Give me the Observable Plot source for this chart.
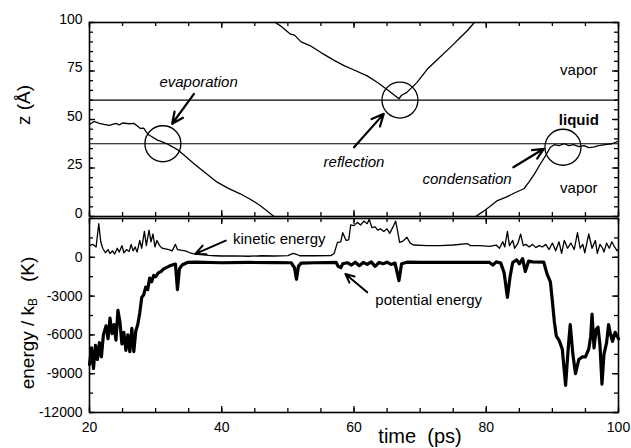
<!DOCTYPE html>
<html><head><meta charset="utf-8">
<script src="https://cdn.jsdelivr.net/npm/d3@7"></script>
<script src="https://cdn.jsdelivr.net/npm/@observablehq/plot@0.6"></script>
<style>
body{margin:0;background:#fff;}
#wrap{position:relative;width:631px;height:448px;overflow:hidden;font-family:"Liberation Sans",Arial,sans-serif;color:#000;background:#fff;}
#wrap svg{position:absolute;left:0;overflow:visible;}
.lab{position:absolute;white-space:nowrap;transform:translate(-50%,-50%);line-height:1;}
.rot{transform:translate(-50%,-50%) rotate(-90deg);}
</style></head><body><div id="wrap"></div>
<script>
// ---- data ----
const xTicks = [20, 40, 60, 80, 100];
const zTicks = [0, 25, 50, 75, 100];
const eTicks = [-12000, -9000, -6000, -3000, 0];

// top panel: molecule trajectories z(t)
const evapT = [20, 20.7, 21.5, 22.2, 23, 24, 24.5, 25, 26, 26.7, 27.3, 27.7, 28.2, 28.6, 29, 29.5, 30.2, 31, 31.7, 32.5, 33.3, 34.5, 35.8, 37.5, 39.3, 41, 42.8, 44.5, 45.8, 47, 47.9];
const evapZ = [47.4, 49, 48, 47.5, 47, 48, 47.2, 48.2, 47.8, 48, 46.5, 45.4, 45.5, 43.5, 42, 41, 39.5, 38.5, 37.5, 36, 34.5, 31, 27.2, 22.5, 17.7, 14.5, 11.7, 8.5, 5.7, 2.5, 0];
const reflT = [48.1, 49, 50.4, 51, 52, 53.4, 55, 57, 58.5, 60, 62, 63.5, 65, 66.8, 67.2, 68, 69.5, 71.1, 72.5, 74.6, 76, 77.2, 78.2];
const reflZ = [100, 98, 94, 93.5, 90, 88, 84.5, 80.5, 77.8, 75.5, 72.5, 69.2, 65.5, 60.7, 62.5, 64, 69, 76, 80.5, 87.3, 92, 96, 100];
const condT = [78.4, 79.5, 80.5, 81.7, 83, 84.5, 85.7, 86.5, 87.3, 88.2, 89, 89.7, 90.3, 91, 91.8, 92.5, 93.2, 94, 94.8, 95.5, 96.2, 97, 98, 99, 100];
const condZ = [0, 2.5, 5, 8.2, 10, 12.5, 14.3, 18, 22, 27.2, 31.5, 35.7, 37, 36.5, 37.5, 36.5, 37, 36, 36.5, 35.5, 35.8, 36.5, 37, 37.5, 38.8];
const interfaceZ = [60, 37.5];
const eventT = [31.1, 66.95, 91.6];
const eventZ = [37.5, 60, 35.7];
const eventName = ["evaporation", "reflection", "condensation"];
const eventLabelT = [36.5, 60.0, 77.1];
const eventLabelZ = [69.2, 28, 19.4];
const eventArrowT1 = [35.8, 60.0, 84.1];
const eventArrowZ1 = [63.2, 35.7, 25.4];
const eventArrowT2 = [32.5, 64.5, 88.7];
const eventArrowZ2 = [47.8, 52.9, 34.9];
const phaseName = ["vapor", "liquid", "vapor"];
const phaseT = [94, 94, 94];
const phaseZ = [75.3, 49.9, 14.4];

// bottom panel: energies
const keT = [20, 20.5, 21, 21.4, 21.7, 22, 22.4, 22.8, 23.1, 23.5, 23.8, 24.2, 24.5, 24.9, 25.2, 25.6, 26, 26.3, 26.6, 26.9, 27.2, 27.6, 27.9, 28.3, 28.6, 29, 29.3, 29.6, 29.9, 30.2, 30.6, 31, 31.5, 32, 32.5, 33, 33.3, 33.8, 34.5, 35.2, 36, 37, 38, 39, 40, 42, 44, 46, 48, 50, 50.8, 51.2, 51.8, 54, 56.5, 57, 57.5, 58, 58.3, 58.8, 59.2, 59.5, 60, 60.5, 61, 61.5, 62, 62.3, 62.7, 63.2, 63.6, 64, 64.5, 65, 65.4, 65.9, 66.3, 66.6, 66.9, 67.4, 68, 68.5, 69, 71, 73, 75, 77.2, 77.6, 79, 80.5, 81.5, 82, 82.5, 82.8, 83.2, 83.5, 84, 84.3, 84.8, 85.2, 85.6, 86, 86.5, 87, 87.5, 88, 88.5, 89, 89.5, 90, 90.5, 91, 91.4, 91.8, 92.3, 92.8, 93.3, 93.8, 94.2, 94.6, 94.9, 95.5, 96, 96.5, 96.8, 97.2, 97.6, 97.8, 98.2, 98.6, 99, 99.4, 99.8, 100];
const keE = [900, 1000, 800, 2600, 1200, 700, 350, 600, 300, 500, 250, 700, 400, 900, 350, 600, 450, 1000, 500, 800, 400, 1300, 700, 2000, 900, 2100, 1200, 1800, 800, 1300, 900, 700, 650, 600, 500, 1000, 600, 550, 500, 350, 250, 200, 150, 120, 100, 110, 80, 120, 100, 130, 300, 250, 120, 120, 130, 300, 1150, 1200, 1900, 1300, 1350, 2500, 2450, 2700, 2500, 2800, 2600, 2950, 2300, 2350, 2100, 2200, 2000, 2200, 1850, 2350, 2800, 2000, 1150, 1250, 1550, 1100, 950, 900, 900, 950, 1050, 900, 900, 850, 950, 700, 1200, 800, 2000, 900, 1300, 700, 1100, 1800, 900, 1000, 800, 1000, 750, 900, 800, 1000, 600, 1100, 500, 1200, 300, 1300, 700, 1100, 600, 1900, 700, 1000, 350, 1800, 700, 1300, 300, 1000, 700, 400, 1100, 700, 1200, 800, 500, 600];
const peT = [20, 20.3, 20.6, 20.9, 21.2, 21.5, 21.8, 22.1, 22.5, 22.8, 23.1, 23.4, 23.7, 24, 24.3, 24.6, 24.9, 25.2, 25.5, 25.8, 26.1, 26.4, 26.7, 27, 27.3, 27.6, 27.9, 28.2, 28.5, 28.8, 29.1, 29.4, 29.7, 30, 30.4, 30.8, 31.2, 31.6, 32, 32.5, 33, 33.3, 33.6, 34, 34.8, 36, 40, 44, 48, 50.5, 51, 51.3, 51.6, 52, 54, 56, 57.3, 57.6, 58, 58.3, 59, 59.6, 60.2, 60.8, 61.4, 62, 62.6, 63.2, 63.8, 64.4, 65, 65.6, 66.2, 66.8, 67.2, 68, 70, 74, 78, 80.5, 81, 81.5, 82.2, 82.7, 83.2, 83.6, 84, 84.6, 85, 85.5, 85.9, 86.4, 87, 88.7, 89.2, 89.7, 90, 90.3, 90.6, 91, 91.5, 92, 92.4, 92.7, 93.1, 93.5, 94, 94.5, 95, 95.5, 95.8, 96, 96.3, 96.6, 96.9, 97.2, 97.5, 97.8, 98.2, 98.5, 98.8, 99.1, 99.5, 100];
const peE = [-8300, -7000, -8600, -6800, -7900, -6600, -7700, -6000, -5300, -6300, -4700, -5900, -5200, -6400, -4100, -5000, -6700, -5800, -7200, -6000, -7300, -5500, -7300, -5700, -5200, -4300, -3100, -2900, -2300, -2500, -1600, -1900, -1400, -1500, -1200, -1100, -900, -800, -700, -600, -520, -2500, -900, -600, -400, -380, -420, -400, -410, -420, -800, -1700, -700, -450, -420, -410, -400, -700, -800, -500, -420, -600, -380, -650, -400, -550, -350, -700, -400, -500, -380, -550, -450, -1800, -500, -380, -400, -390, -400, -400, -600, -350, -450, -1200, -3100, -1500, -400, -200, -500, -100, -1100, -300, -350, -380, -1300, -1900, -3400, -5000, -6100, -6400, -7100, -9900, -7000, -5200, -7500, -9000, -7900, -7700, -7700, -7100, -6100, -4400, -7000, -5600, -5400, -6800, -9800, -7500, -6600, -5200, -6000, -6500, -5800, -6300];
const energyName = ["kinetic energy", "potential energy"];
const energyLabelT = [48.7, 71.3];
const energyLabelE = [1425, -3300];
const energyArrowT1 = [40.6, 62.0];
const energyArrowE1 = [1290, -2710];
const energyArrowT2 = [36.0, 58.7];
const energyArrowE2 = [260, -1290];

// ---- build tables ----
const zip = (a, b) => a.map((v, i) => ({x: v, y: b[i]}));
const evap = zip(evapT, evapZ), refl = zip(reflT, reflZ), cond = zip(condT, condZ);
const events = eventName.map((n, i) => ({name: n, t: eventT[i], z: eventZ[i], lt: eventLabelT[i], lz: eventLabelZ[i], x1: eventArrowT1[i], y1: eventArrowZ1[i], x2: eventArrowT2[i], y2: eventArrowZ2[i]}));
const phases = phaseName.map((n, i) => ({name: n, t: phaseT[i], z: phaseZ[i]}));
const ke = zip(keT, keE), pe = zip(peT, peE);
const elabels = energyName.map((n, i) => ({name: n, t: energyLabelT[i], e: energyLabelE[i], x1: energyArrowT1[i], y1: energyArrowE1[i], x2: energyArrowT2[i], y2: energyArrowE2[i]}));

const FONT = '"Liberation Sans", Arial, sans-serif';
const plain = d => String(d);
const X0 = 20, X1 = 100, PLOT_W = 529, PLOT_H = 194;
// inward-pointing ticks on all four sides of a frame (tick length given in pixels, converted via scale span)
function frameTicks(xMinor, yDom, yMajor, yMinor) {
  const [Y0, Y1] = yDom;
  const lx = px => px * (X1 - X0) / PLOT_W, ly = px => px * (Y1 - Y0) / PLOT_H;
  const M = 6, m = 4, w = 1.3;
  const s = {stroke: "#000", strokeWidth: w};
  return [
    Plot.ruleX(xTicks, {x: d => d, y1: Y1, y2: Y1 - ly(M), ...s}),
    Plot.ruleX(xMinor, {x: d => d, y1: Y1, y2: Y1 - ly(m), ...s}),
    Plot.ruleX(xTicks, {x: d => d, y1: Y0, y2: Y0 + ly(M), ...s}),
    Plot.ruleX(xMinor, {x: d => d, y1: Y0, y2: Y0 + ly(m), ...s}),
    Plot.ruleY(yMajor, {y: d => d, x1: X0, x2: X0 + lx(M), ...s}),
    Plot.ruleY(yMinor, {y: d => d, x1: X0, x2: X0 + lx(m), ...s}),
    Plot.ruleY(yMajor, {y: d => d, x1: X1, x2: X1 - lx(M), ...s}),
    Plot.ruleY(yMinor, {y: d => d, x1: X1, x2: X1 - lx(m), ...s})
  ];
}
const xMinor = d3.range(20, 101, 5);

const topPlot = Plot.plot({
  width: 631, height: 217,
  marginTop: 22, marginBottom: 1, marginLeft: 89, marginRight: 13,
  style: {fontFamily: FONT, fontSize: "14px", color: "#000", background: "transparent", overflow: "visible"},
  x: {domain: [X0, X1], axis: null},
  y: {domain: [0, 100]},
  marks: [
    ...frameTicks(xMinor, [0, 100], zTicks, d3.range(0, 101, 5)),
    Plot.axisY(zTicks, {anchor: "left", tickSize: 0, tickPadding: 7, dy: -3, tickFormat: plain, label: null}),
    Plot.ruleY(interfaceZ, {stroke: "#000", strokeWidth: 1.2}),
    Plot.line(evap, {x: "x", y: "y", stroke: "#000", strokeWidth: 1.3}),
    Plot.line(refl, {x: "x", y: "y", stroke: "#000", strokeWidth: 1.3}),
    Plot.line(cond, {x: "x", y: "y", stroke: "#000", strokeWidth: 1.3}),
    Plot.dot(events, {x: "t", y: "z", r: 18, stroke: "#000", strokeWidth: 1.3, fill: "none"}),
    Plot.arrow(events, {x1: "x1", y1: "y1", x2: "x2", y2: "y2", stroke: "#000", strokeWidth: 2.2, headLength: 9, headAngle: 50}),
    Plot.text(events, {x: "lt", y: "lz", text: "name", fontStyle: "italic", fontSize: 15}),
    Plot.text(phases.filter(d => d.name === "vapor"), {x: "t", y: "z", text: "name", fontSize: 15}),
    Plot.text(phases.filter(d => d.name === "liquid"), {x: "t", y: "z", text: "name", fontSize: 15, fontWeight: "bold"}),
    Plot.frame({stroke: "#000", strokeWidth: 1.6})
  ]
});
topPlot.style.top = "0px";

const bottomPlot = Plot.plot({
  width: 631, height: 231,
  marginTop: 1, marginBottom: 36, marginLeft: 89, marginRight: 13,
  style: {fontFamily: FONT, fontSize: "14px", color: "#000", background: "transparent", overflow: "visible"},
  x: {domain: [X0, X1]},
  y: {domain: [-12000, 3000]},
  marks: [
    ...frameTicks(xMinor, [-12000, 3000], eTicks, d3.range(-12000, 3001, 1500)),
    Plot.axisY(eTicks, {anchor: "left", tickSize: 0, tickPadding: 7, tickFormat: plain, label: null}),
    Plot.axisX(xTicks, {anchor: "bottom", tickSize: 0, tickPadding: 10, tickFormat: plain, label: null}),
    Plot.line(ke, {x: "x", y: "y", stroke: "#000", strokeWidth: 1.3}),
    Plot.line(pe, {x: "x", y: "y", stroke: "#000", strokeWidth: 3.2, strokeLinejoin: "round"}),
    Plot.arrow(elabels, {x1: "x1", y1: "y1", x2: "x2", y2: "y2", stroke: "#000", strokeWidth: 2, headLength: 9, headAngle: 50}),
    Plot.text(elabels, {x: "t", y: "e", text: "name", fontSize: 15}),
    Plot.frame({stroke: "#000", strokeWidth: 1.6})
  ]
});
bottomPlot.style.top = "217px";

const wrap = document.getElementById("wrap");
wrap.appendChild(bottomPlot);
wrap.appendChild(topPlot);

function label(html, x, y, size, rot) {
  const d = document.createElement("div");
  d.className = "lab" + (rot ? " rot" : "");
  d.style.left = x + "px"; d.style.top = y + "px"; d.style.fontSize = size + "px";
  d.innerHTML = html;
  wrap.appendChild(d);
}
label("z&nbsp;(Å)", 23, 105, 19, true);
label('energy / k<span style="font-size:12px;position:relative;top:3px">B</span>&nbsp;&nbsp;&nbsp;(K)', 27, 323, 19, true);
label("time&nbsp;&nbsp;(ps)", 420, 436, 20, false);
</script>
</body></html>
